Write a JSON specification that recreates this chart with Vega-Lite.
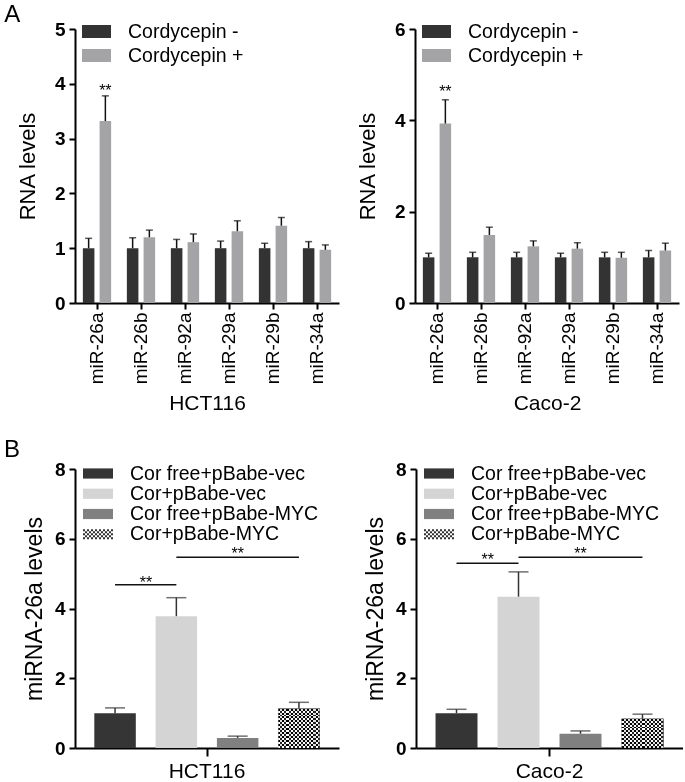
{
  "$schema": "https://vega.github.io/schema/vega-lite/v6.json",
  "padding": {"left": 4, "top": 3, "right": 0, "bottom": 0},
  "background": "white",
  "config": {
    "view": {"stroke": null},
    "font": "Liberation Sans",
    "axis": {"domainColor": "#000", "domainWidth": 2, "tickColor": "#000", "tickWidth": 2, "tickSize": 6, "labelColor": "#000", "titleColor": "#000", "grid": false, "labelFont": "Liberation Sans", "titleFont": "Liberation Sans", "titleFontWeight": "normal"},
    "axisY": {"labelFontSize": 19, "labelFontWeight": "bold", "titleFontSize": 22, "labelPadding": 4, "minExtent": 21, "maxExtent": 21, "titlePadding": 14.7},
    "axisX": {"labelFontSize": 19, "labelFontWeight": "normal", "titleFontSize": 21, "labelPadding": 3, "titlePadding": 9},
    "legend": {"labelFont": "Liberation Sans", "labelFontSize": 19.5, "labelColor": "#000", "labelLimit": 400, "padding": 0, "symbolStrokeWidth": 0, "labelOffset": 17, "symbolOpacity": 1},
    "title": {"font": "Liberation Sans", "fontSize": 24, "fontWeight": "normal", "color": "#000", "anchor": "start"}
  },
  "datasets": {
    "hct_a": [
      {"mir": "miR-26a", "trt": "Cordycepin -", "value": 1.0, "err": 1.18, "sig": ""},
      {"mir": "miR-26a", "trt": "Cordycepin +", "value": 3.32, "err": 3.78, "sig": "**"},
      {"mir": "miR-26b", "trt": "Cordycepin -", "value": 1.0, "err": 1.19, "sig": ""},
      {"mir": "miR-26b", "trt": "Cordycepin +", "value": 1.2, "err": 1.33, "sig": ""},
      {"mir": "miR-92a", "trt": "Cordycepin -", "value": 1.0, "err": 1.16, "sig": ""},
      {"mir": "miR-92a", "trt": "Cordycepin +", "value": 1.11, "err": 1.26, "sig": ""},
      {"mir": "miR-29a", "trt": "Cordycepin -", "value": 1.0, "err": 1.13, "sig": ""},
      {"mir": "miR-29a", "trt": "Cordycepin +", "value": 1.31, "err": 1.5, "sig": ""},
      {"mir": "miR-29b", "trt": "Cordycepin -", "value": 1.0, "err": 1.09, "sig": ""},
      {"mir": "miR-29b", "trt": "Cordycepin +", "value": 1.41, "err": 1.56, "sig": ""},
      {"mir": "miR-34a", "trt": "Cordycepin -", "value": 1.0, "err": 1.12, "sig": ""},
      {"mir": "miR-34a", "trt": "Cordycepin +", "value": 0.97, "err": 1.06, "sig": ""}
    ],
    "caco_a": [
      {"mir": "miR-26a", "trt": "Cordycepin -", "value": 1.0, "err": 1.09, "sig": ""},
      {"mir": "miR-26a", "trt": "Cordycepin +", "value": 3.93, "err": 4.45, "sig": "**"},
      {"mir": "miR-26b", "trt": "Cordycepin -", "value": 1.0, "err": 1.11, "sig": ""},
      {"mir": "miR-26b", "trt": "Cordycepin +", "value": 1.49, "err": 1.66, "sig": ""},
      {"mir": "miR-92a", "trt": "Cordycepin -", "value": 1.0, "err": 1.11, "sig": ""},
      {"mir": "miR-92a", "trt": "Cordycepin +", "value": 1.24, "err": 1.36, "sig": ""},
      {"mir": "miR-29a", "trt": "Cordycepin -", "value": 1.0, "err": 1.09, "sig": ""},
      {"mir": "miR-29a", "trt": "Cordycepin +", "value": 1.19, "err": 1.32, "sig": ""},
      {"mir": "miR-29b", "trt": "Cordycepin -", "value": 1.0, "err": 1.11, "sig": ""},
      {"mir": "miR-29b", "trt": "Cordycepin +", "value": 0.99, "err": 1.11, "sig": ""},
      {"mir": "miR-34a", "trt": "Cordycepin -", "value": 1.0, "err": 1.15, "sig": ""},
      {"mir": "miR-34a", "trt": "Cordycepin +", "value": 1.15, "err": 1.31, "sig": ""}
    ],
    "hct_b": [
      {"cell": "HCT116", "group": "Cor free+pBabe-vec", "value": 1.0, "err": 1.15},
      {"cell": "HCT116", "group": "Cor+pBabe-vec", "value": 3.78, "err": 4.31},
      {"cell": "HCT116", "group": "Cor free+pBabe-MYC", "value": 0.29, "err": 0.34},
      {"cell": "HCT116", "group": "Cor+pBabe-MYC", "value": 1.13, "err": 1.31}
    ],
    "caco_b": [
      {"cell": "Caco-2", "group": "Cor free+pBabe-vec", "value": 1.0, "err": 1.11},
      {"cell": "Caco-2", "group": "Cor+pBabe-vec", "value": 4.34, "err": 5.05},
      {"cell": "Caco-2", "group": "Cor free+pBabe-MYC", "value": 0.41, "err": 0.49},
      {"cell": "Caco-2", "group": "Cor+pBabe-MYC", "value": 0.84, "err": 0.97}
    ],
    "hct_sig": [
      {"line": 1, "from": "Cor free+pBabe-vec", "to": "Cor+pBabe-vec", "level": 4.68, "mark": "**"},
      {"line": 2, "from": "Cor+pBabe-vec", "to": "Cor+pBabe-MYC", "level": 5.47, "mark": "**"}
    ],
    "caco_sig": [
      {"line": 1, "from": "Cor free+pBabe-vec", "to": "Cor+pBabe-vec", "level": 5.3, "mark": "**"},
      {"line": 2, "from": "Cor+pBabe-vec", "to": "Cor+pBabe-MYC", "level": 5.47, "mark": "**"}
    ]
  },
  "spacing": 24,
  "resolve": {"scale": {"color": "independent"}, "legend": {"color": "independent"}},
  "vconcat": [
    {
      "title": {"text": "A", "dx": -12, "offset": -10},
      "spacing": 17,
      "resolve": {"scale": {"color": "independent"}, "legend": {"color": "independent"}},
      "hconcat": [
        {
          "width": 264, "height": 274,
          "data": {"name": "hct_a"},
          "encoding": {
            "x": {"field": "mir", "type": "nominal", "sort": null, "scale": {"paddingInner": 0, "paddingOuter": 0}, "axis": {"title": "HCT116", "labelAngle": -90}},
            "xOffset": {"field": "trt", "type": "nominal", "sort": null, "scale": {"paddingInner": 0.31, "paddingOuter": 0.47}}
          },
          "layer": [
            {"mark": {"type": "bar"}, "encoding": {
              "y": {"field": "value", "type": "quantitative", "scale": {"domain": [0, 5], "nice": false}, "axis": {"title": "RNA levels", "values": [0, 1, 2, 3, 4, 5]}},
              "color": {"field": "trt", "type": "nominal", "sort": null, "scale": {"range": ["#333333", "#a4a4a6"]}, "legend": {"title": null, "orient": "none", "legendX": 7, "legendY": -12, "symbolType": "M-1,-0.45H1V0.45H-1Z", "symbolSize": 841, "rowPadding": 0}}}},
            {"mark": {"type": "rule", "strokeWidth": 1.5, "color": "#111"}, "encoding": {"y": {"field": "value", "type": "quantitative"}, "y2": {"field": "err"}}},
            {"mark": {"type": "tick", "thickness": 1.5, "size": 7, "color": "#111"}, "encoding": {"y": {"field": "err", "type": "quantitative"}}},
            {"mark": {"type": "text", "fontSize": 16, "baseline": "alphabetic", "dy": 0, "color": "#000"}, "encoding": {"y": {"field": "err", "type": "quantitative"}, "text": {"field": "sig"}}}
          ]
        },
        {
          "width": 264, "height": 274,
          "data": {"name": "caco_a"},
          "encoding": {
            "x": {"field": "mir", "type": "nominal", "sort": null, "scale": {"paddingInner": 0, "paddingOuter": 0}, "axis": {"title": "Caco-2", "labelAngle": -90}},
            "xOffset": {"field": "trt", "type": "nominal", "sort": null, "scale": {"paddingInner": 0.31, "paddingOuter": 0.47}}
          },
          "layer": [
            {"mark": {"type": "bar"}, "encoding": {
              "y": {"field": "value", "type": "quantitative", "scale": {"domain": [0, 6], "nice": false}, "axis": {"title": "RNA levels", "values": [0, 2, 4, 6]}},
              "color": {"field": "trt", "type": "nominal", "sort": null, "scale": {"range": ["#333333", "#a4a4a6"]}, "legend": {"title": null, "orient": "none", "legendX": 7, "legendY": -12, "symbolType": "M-1,-0.45H1V0.45H-1Z", "symbolSize": 841, "rowPadding": 0}}}},
            {"mark": {"type": "rule", "strokeWidth": 1.5, "color": "#111"}, "encoding": {"y": {"field": "value", "type": "quantitative"}, "y2": {"field": "err"}}},
            {"mark": {"type": "tick", "thickness": 1.5, "size": 7, "color": "#111"}, "encoding": {"y": {"field": "err", "type": "quantitative"}}},
            {"mark": {"type": "text", "fontSize": 16, "baseline": "alphabetic", "dy": -3, "color": "#000"}, "encoding": {"y": {"field": "err", "type": "quantitative"}, "text": {"field": "sig"}}}
          ]
        }
      ]
    },
    {
      "title": {"text": "B", "dx": -19, "offset": -2},
      "spacing": 25,
      "resolve": {"scale": {"color": "independent"}, "legend": {"color": "independent"}},
      "hconcat": [
        {
          "width": 264, "height": 279,
          "resolve": {"scale": {"x": "independent"}, "axis": {"x": "independent"}},
          "layer": [
            {"data": {"name": "hct_b"}, "mark": {"type": "rule", "opacity": 0}, "encoding": {"x": {"field": "cell", "type": "nominal", "axis": {"title": null, "labelAngle": 0, "labelFontSize": 21, "tickSize": 8, "labelPadding": 4}}}},
            {
              "data": {"name": "hct_b"},
              "encoding": {"x": {"field": "group", "type": "nominal", "sort": null, "scale": {"domain": ["Cor free+pBabe-vec", "Cor+pBabe-vec", "Cor free+pBabe-MYC", "Cor+pBabe-MYC"], "paddingInner": 0.323, "paddingOuter": 0.315}, "axis": null}},
              "layer": [
                {"mark": {"type": "bar"}, "encoding": {
                  "y": {"field": "value", "type": "quantitative", "scale": {"domain": [0, 8], "nice": false}, "axis": {"title": "miRNA-26a levels", "titleFontSize": 23, "titlePadding": 7.9, "values": [0, 2, 4, 6, 8]}},
                  "color": {"field": "group", "type": "nominal", "sort": null, "scale": {"range": ["#353535", "#d4d4d4", "#808080", "#333333"]}, "legend": {"title": null, "orient": "none", "legendX": 13, "legendY": -5.5, "symbolType": "M-1.5,-0.51H1.5V0.51H-1.5Z", "symbolSize": 400, "rowPadding": 0.25, "labelOffset": 22,
                    "encode": {"symbols": {"update": {"shape": [{"test": "datum.value === 'Cor+pBabe-MYC'", "value": "M-1.5,-0.5h0.2v0.2h-0.2Z M-1.1,-0.5h0.2v0.2h-0.2Z M-0.7,-0.5h0.2v0.2h-0.2Z M-0.3,-0.5h0.2v0.2h-0.2Z M0.1,-0.5h0.2v0.2h-0.2Z M0.5,-0.5h0.2v0.2h-0.2Z M0.9,-0.5h0.2v0.2h-0.2Z M1.3,-0.5h0.2v0.2h-0.2Z M-1.3,-0.3h0.2v0.2h-0.2Z M-0.9,-0.3h0.2v0.2h-0.2Z M-0.5,-0.3h0.2v0.2h-0.2Z M-0.1,-0.3h0.2v0.2h-0.2Z M0.3,-0.3h0.2v0.2h-0.2Z M0.7,-0.3h0.2v0.2h-0.2Z M1.1,-0.3h0.2v0.2h-0.2Z M-1.5,-0.1h0.2v0.2h-0.2Z M-1.1,-0.1h0.2v0.2h-0.2Z M-0.7,-0.1h0.2v0.2h-0.2Z M-0.3,-0.1h0.2v0.2h-0.2Z M0.1,-0.1h0.2v0.2h-0.2Z M0.5,-0.1h0.2v0.2h-0.2Z M0.9,-0.1h0.2v0.2h-0.2Z M1.3,-0.1h0.2v0.2h-0.2Z M-1.3,0.1h0.2v0.2h-0.2Z M-0.9,0.1h0.2v0.2h-0.2Z M-0.5,0.1h0.2v0.2h-0.2Z M-0.1,0.1h0.2v0.2h-0.2Z M0.3,0.1h0.2v0.2h-0.2Z M0.7,0.1h0.2v0.2h-0.2Z M1.1,0.1h0.2v0.2h-0.2Z M-1.5,0.3h0.2v0.2h-0.2Z M-1.1,0.3h0.2v0.2h-0.2Z M-0.7,0.3h0.2v0.2h-0.2Z M-0.3,0.3h0.2v0.2h-0.2Z M0.1,0.3h0.2v0.2h-0.2Z M0.5,0.3h0.2v0.2h-0.2Z M0.9,0.3h0.2v0.2h-0.2Z M1.3,0.3h0.2v0.2h-0.2Z"}, {"value": "M-1.5,-0.51H1.5V0.51H-1.5Z"}]}}}}}}},
                {"transform": [{"filter": "datum.group === 'Cor+pBabe-MYC'"}], "mark": {"type": "bar", "fill": {"gradient": "linear", "x1": 0, "y1": 0, "x2": 1, "y2": 0, "stops": [{"offset": 0, "color": "#ffffff"}, {"offset": 0.05, "color": "#ffffff"}, {"offset": 0.05, "color": "#222222"}, {"offset": 0.1, "color": "#222222"}, {"offset": 0.1, "color": "#ffffff"}, {"offset": 0.15, "color": "#ffffff"}, {"offset": 0.15, "color": "#222222"}, {"offset": 0.2, "color": "#222222"}, {"offset": 0.2, "color": "#ffffff"}, {"offset": 0.25, "color": "#ffffff"}, {"offset": 0.25, "color": "#222222"}, {"offset": 0.3, "color": "#222222"}, {"offset": 0.3, "color": "#ffffff"}, {"offset": 0.35, "color": "#ffffff"}, {"offset": 0.35, "color": "#222222"}, {"offset": 0.4, "color": "#222222"}, {"offset": 0.4, "color": "#ffffff"}, {"offset": 0.45, "color": "#ffffff"}, {"offset": 0.45, "color": "#222222"}, {"offset": 0.5, "color": "#222222"}, {"offset": 0.5, "color": "#ffffff"}, {"offset": 0.55, "color": "#ffffff"}, {"offset": 0.55, "color": "#222222"}, {"offset": 0.6, "color": "#222222"}, {"offset": 0.6, "color": "#ffffff"}, {"offset": 0.65, "color": "#ffffff"}, {"offset": 0.65, "color": "#222222"}, {"offset": 0.7, "color": "#222222"}, {"offset": 0.7, "color": "#ffffff"}, {"offset": 0.75, "color": "#ffffff"}, {"offset": 0.75, "color": "#222222"}, {"offset": 0.8, "color": "#222222"}, {"offset": 0.8, "color": "#ffffff"}, {"offset": 0.85, "color": "#ffffff"}, {"offset": 0.85, "color": "#222222"}, {"offset": 0.9, "color": "#222222"}, {"offset": 0.9, "color": "#ffffff"}, {"offset": 0.95, "color": "#ffffff"}, {"offset": 0.95, "color": "#222222"}, {"offset": 1, "color": "#222222"}]}}, "encoding": {"y": {"field": "value", "type": "quantitative"}}},
                {"transform": [{"filter": "datum.group === 'Cor+pBabe-MYC'"}], "mark": {"type": "bar", "blend": "difference", "fill": {"gradient": "linear", "x1": 0, "y1": 0, "x2": 0, "y2": 1, "stops": [{"offset": 0, "color": "#ffffff"}, {"offset": 0.05, "color": "#ffffff"}, {"offset": 0.05, "color": "#000000"}, {"offset": 0.1, "color": "#000000"}, {"offset": 0.1, "color": "#ffffff"}, {"offset": 0.15, "color": "#ffffff"}, {"offset": 0.15, "color": "#000000"}, {"offset": 0.2, "color": "#000000"}, {"offset": 0.2, "color": "#ffffff"}, {"offset": 0.25, "color": "#ffffff"}, {"offset": 0.25, "color": "#000000"}, {"offset": 0.3, "color": "#000000"}, {"offset": 0.3, "color": "#ffffff"}, {"offset": 0.35, "color": "#ffffff"}, {"offset": 0.35, "color": "#000000"}, {"offset": 0.4, "color": "#000000"}, {"offset": 0.4, "color": "#ffffff"}, {"offset": 0.45, "color": "#ffffff"}, {"offset": 0.45, "color": "#000000"}, {"offset": 0.5, "color": "#000000"}, {"offset": 0.5, "color": "#ffffff"}, {"offset": 0.55, "color": "#ffffff"}, {"offset": 0.55, "color": "#000000"}, {"offset": 0.6, "color": "#000000"}, {"offset": 0.6, "color": "#ffffff"}, {"offset": 0.65, "color": "#ffffff"}, {"offset": 0.65, "color": "#000000"}, {"offset": 0.7, "color": "#000000"}, {"offset": 0.7, "color": "#ffffff"}, {"offset": 0.75, "color": "#ffffff"}, {"offset": 0.75, "color": "#000000"}, {"offset": 0.8, "color": "#000000"}, {"offset": 0.8, "color": "#ffffff"}, {"offset": 0.85, "color": "#ffffff"}, {"offset": 0.85, "color": "#000000"}, {"offset": 0.9, "color": "#000000"}, {"offset": 0.9, "color": "#ffffff"}, {"offset": 0.95, "color": "#ffffff"}, {"offset": 0.95, "color": "#000000"}, {"offset": 1, "color": "#000000"}]}}, "encoding": {"y": {"field": "value", "type": "quantitative"}}},
                {"mark": {"type": "rule", "strokeWidth": 1.5, "color": "#333"}, "encoding": {"y": {"field": "value", "type": "quantitative"}, "y2": {"field": "err"}}},
                {"mark": {"type": "tick", "thickness": 1.5, "size": 20, "color": "#333"}, "encoding": {"y": {"field": "err", "type": "quantitative"}}},
                {"data": {"name": "hct_sig"}, "mark": {"type": "rule", "strokeWidth": 1.5, "color": "#111"}, "encoding": {"x": {"field": "from", "type": "nominal"}, "x2": {"field": "to"}, "y": {"field": "level", "type": "quantitative"}}},
                {"data": {"name": "hct_sig"}, "transform": [{"filter": "datum.line === 1"}], "mark": {"type": "text", "fontSize": 16, "baseline": "alphabetic", "dy": 3, "color": "#000"}, "encoding": {"x": {"field": "from", "type": "nominal", "bandPosition": 1.246}, "y": {"field": "level", "type": "quantitative"}, "text": {"field": "mark"}}},
                {"data": {"name": "hct_sig"}, "transform": [{"filter": "datum.line === 2"}], "mark": {"type": "text", "fontSize": 16, "baseline": "alphabetic", "dy": 2, "color": "#000"}, "encoding": {"x": {"field": "from", "type": "nominal", "bandPosition": 1.977}, "y": {"field": "level", "type": "quantitative"}, "text": {"field": "mark"}}}
              ]
            }
          ]
        },
        {
          "width": 267, "height": 279,
          "resolve": {"scale": {"x": "independent"}, "axis": {"x": "independent"}},
          "layer": [
            {"data": {"name": "caco_b"}, "mark": {"type": "rule", "opacity": 0}, "encoding": {"x": {"field": "cell", "type": "nominal", "axis": {"title": null, "labelAngle": 0, "labelFontSize": 21, "tickSize": 8, "labelPadding": 4}}}},
            {
              "data": {"name": "caco_b"},
              "encoding": {"x": {"field": "group", "type": "nominal", "sort": null, "scale": {"domain": ["Cor free+pBabe-vec", "Cor+pBabe-vec", "Cor free+pBabe-MYC", "Cor+pBabe-MYC"], "paddingInner": 0.323, "paddingOuter": 0.315}, "axis": null}},
              "layer": [
                {"mark": {"type": "bar"}, "encoding": {
                  "y": {"field": "value", "type": "quantitative", "scale": {"domain": [0, 8], "nice": false}, "axis": {"title": "miRNA-26a levels", "titleFontSize": 23, "titlePadding": 7.9, "values": [0, 2, 4, 6, 8]}},
                  "color": {"field": "group", "type": "nominal", "sort": null, "scale": {"range": ["#353535", "#d4d4d4", "#808080", "#333333"]}, "legend": {"title": null, "orient": "none", "legendX": 13, "legendY": -5.5, "symbolType": "M-1.5,-0.51H1.5V0.51H-1.5Z", "symbolSize": 400, "rowPadding": 0.25, "labelOffset": 22,
                    "encode": {"symbols": {"update": {"shape": [{"test": "datum.value === 'Cor+pBabe-MYC'", "value": "M-1.5,-0.5h0.2v0.2h-0.2Z M-1.1,-0.5h0.2v0.2h-0.2Z M-0.7,-0.5h0.2v0.2h-0.2Z M-0.3,-0.5h0.2v0.2h-0.2Z M0.1,-0.5h0.2v0.2h-0.2Z M0.5,-0.5h0.2v0.2h-0.2Z M0.9,-0.5h0.2v0.2h-0.2Z M1.3,-0.5h0.2v0.2h-0.2Z M-1.3,-0.3h0.2v0.2h-0.2Z M-0.9,-0.3h0.2v0.2h-0.2Z M-0.5,-0.3h0.2v0.2h-0.2Z M-0.1,-0.3h0.2v0.2h-0.2Z M0.3,-0.3h0.2v0.2h-0.2Z M0.7,-0.3h0.2v0.2h-0.2Z M1.1,-0.3h0.2v0.2h-0.2Z M-1.5,-0.1h0.2v0.2h-0.2Z M-1.1,-0.1h0.2v0.2h-0.2Z M-0.7,-0.1h0.2v0.2h-0.2Z M-0.3,-0.1h0.2v0.2h-0.2Z M0.1,-0.1h0.2v0.2h-0.2Z M0.5,-0.1h0.2v0.2h-0.2Z M0.9,-0.1h0.2v0.2h-0.2Z M1.3,-0.1h0.2v0.2h-0.2Z M-1.3,0.1h0.2v0.2h-0.2Z M-0.9,0.1h0.2v0.2h-0.2Z M-0.5,0.1h0.2v0.2h-0.2Z M-0.1,0.1h0.2v0.2h-0.2Z M0.3,0.1h0.2v0.2h-0.2Z M0.7,0.1h0.2v0.2h-0.2Z M1.1,0.1h0.2v0.2h-0.2Z M-1.5,0.3h0.2v0.2h-0.2Z M-1.1,0.3h0.2v0.2h-0.2Z M-0.7,0.3h0.2v0.2h-0.2Z M-0.3,0.3h0.2v0.2h-0.2Z M0.1,0.3h0.2v0.2h-0.2Z M0.5,0.3h0.2v0.2h-0.2Z M0.9,0.3h0.2v0.2h-0.2Z M1.3,0.3h0.2v0.2h-0.2Z"}, {"value": "M-1.5,-0.51H1.5V0.51H-1.5Z"}]}}}}}}},
                {"transform": [{"filter": "datum.group === 'Cor+pBabe-MYC'"}], "mark": {"type": "bar", "fill": {"gradient": "linear", "x1": 0, "y1": 0, "x2": 1, "y2": 0, "stops": [{"offset": 0, "color": "#ffffff"}, {"offset": 0.05, "color": "#ffffff"}, {"offset": 0.05, "color": "#222222"}, {"offset": 0.1, "color": "#222222"}, {"offset": 0.1, "color": "#ffffff"}, {"offset": 0.15, "color": "#ffffff"}, {"offset": 0.15, "color": "#222222"}, {"offset": 0.2, "color": "#222222"}, {"offset": 0.2, "color": "#ffffff"}, {"offset": 0.25, "color": "#ffffff"}, {"offset": 0.25, "color": "#222222"}, {"offset": 0.3, "color": "#222222"}, {"offset": 0.3, "color": "#ffffff"}, {"offset": 0.35, "color": "#ffffff"}, {"offset": 0.35, "color": "#222222"}, {"offset": 0.4, "color": "#222222"}, {"offset": 0.4, "color": "#ffffff"}, {"offset": 0.45, "color": "#ffffff"}, {"offset": 0.45, "color": "#222222"}, {"offset": 0.5, "color": "#222222"}, {"offset": 0.5, "color": "#ffffff"}, {"offset": 0.55, "color": "#ffffff"}, {"offset": 0.55, "color": "#222222"}, {"offset": 0.6, "color": "#222222"}, {"offset": 0.6, "color": "#ffffff"}, {"offset": 0.65, "color": "#ffffff"}, {"offset": 0.65, "color": "#222222"}, {"offset": 0.7, "color": "#222222"}, {"offset": 0.7, "color": "#ffffff"}, {"offset": 0.75, "color": "#ffffff"}, {"offset": 0.75, "color": "#222222"}, {"offset": 0.8, "color": "#222222"}, {"offset": 0.8, "color": "#ffffff"}, {"offset": 0.85, "color": "#ffffff"}, {"offset": 0.85, "color": "#222222"}, {"offset": 0.9, "color": "#222222"}, {"offset": 0.9, "color": "#ffffff"}, {"offset": 0.95, "color": "#ffffff"}, {"offset": 0.95, "color": "#222222"}, {"offset": 1, "color": "#222222"}]}}, "encoding": {"y": {"field": "value", "type": "quantitative"}}},
                {"transform": [{"filter": "datum.group === 'Cor+pBabe-MYC'"}], "mark": {"type": "bar", "blend": "difference", "fill": {"gradient": "linear", "x1": 0, "y1": 0, "x2": 0, "y2": 1, "stops": [{"offset": 0, "color": "#ffffff"}, {"offset": 0.0667, "color": "#ffffff"}, {"offset": 0.0667, "color": "#000000"}, {"offset": 0.1333, "color": "#000000"}, {"offset": 0.1333, "color": "#ffffff"}, {"offset": 0.2, "color": "#ffffff"}, {"offset": 0.2, "color": "#000000"}, {"offset": 0.2667, "color": "#000000"}, {"offset": 0.2667, "color": "#ffffff"}, {"offset": 0.3333, "color": "#ffffff"}, {"offset": 0.3333, "color": "#000000"}, {"offset": 0.4, "color": "#000000"}, {"offset": 0.4, "color": "#ffffff"}, {"offset": 0.4667, "color": "#ffffff"}, {"offset": 0.4667, "color": "#000000"}, {"offset": 0.5333, "color": "#000000"}, {"offset": 0.5333, "color": "#ffffff"}, {"offset": 0.6, "color": "#ffffff"}, {"offset": 0.6, "color": "#000000"}, {"offset": 0.6667, "color": "#000000"}, {"offset": 0.6667, "color": "#ffffff"}, {"offset": 0.7333, "color": "#ffffff"}, {"offset": 0.7333, "color": "#000000"}, {"offset": 0.8, "color": "#000000"}, {"offset": 0.8, "color": "#ffffff"}, {"offset": 0.8667, "color": "#ffffff"}, {"offset": 0.8667, "color": "#000000"}, {"offset": 0.9333, "color": "#000000"}, {"offset": 0.9333, "color": "#ffffff"}, {"offset": 1, "color": "#ffffff"}]}}, "encoding": {"y": {"field": "value", "type": "quantitative"}}},
                {"mark": {"type": "rule", "strokeWidth": 1.5, "color": "#333"}, "encoding": {"y": {"field": "value", "type": "quantitative"}, "y2": {"field": "err"}}},
                {"mark": {"type": "tick", "thickness": 1.5, "size": 20, "color": "#333"}, "encoding": {"y": {"field": "err", "type": "quantitative"}}},
                {"data": {"name": "caco_sig"}, "mark": {"type": "rule", "strokeWidth": 1.5, "color": "#111"}, "encoding": {"x": {"field": "from", "type": "nominal"}, "x2": {"field": "to"}, "y": {"field": "level", "type": "quantitative"}}},
                {"data": {"name": "caco_sig"}, "transform": [{"filter": "datum.line === 1"}], "mark": {"type": "text", "fontSize": 16, "baseline": "alphabetic", "dy": 2, "color": "#000"}, "encoding": {"x": {"field": "from", "type": "nominal", "bandPosition": 1.246}, "y": {"field": "level", "type": "quantitative"}, "text": {"field": "mark"}}},
                {"data": {"name": "caco_sig"}, "transform": [{"filter": "datum.line === 2"}], "mark": {"type": "text", "fontSize": 16, "baseline": "alphabetic", "dy": 2, "color": "#000"}, "encoding": {"x": {"field": "from", "type": "nominal", "bandPosition": 1.977}, "y": {"field": "level", "type": "quantitative"}, "text": {"field": "mark"}}}
              ]
            }
          ]
        }
      ]
    }
  ]
}
